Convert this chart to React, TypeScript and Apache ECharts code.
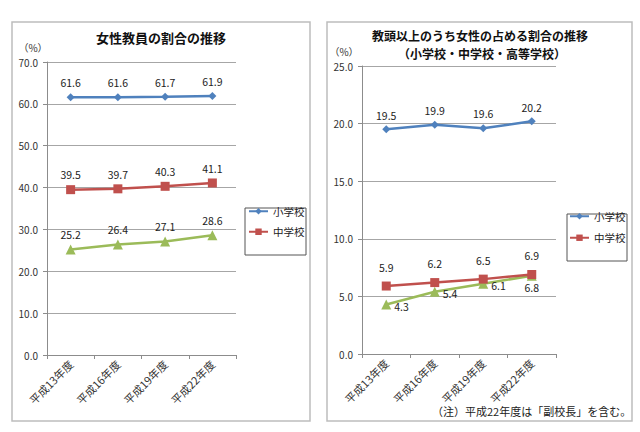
import React, { useEffect, useRef } from "react";
import * as echarts from "echarts";

const categories = ["平成13年度", "平成16年度", "平成19年度", "平成22年度"];
const seriesNames = ["小学校", "中学校", "高等学校"];
const teacherElem = [61.6, 61.6, 61.7, 61.9];
const teacherJunior = [39.5, 39.7, 40.3, 41.1];
const teacherHigh = [25.2, 26.4, 27.1, 28.6];
const mgmtElem = [19.5, 19.9, 19.6, 20.2];
const mgmtJunior = [5.9, 6.2, 6.5, 6.9];
const mgmtHigh = [4.3, 5.4, 6.1, 6.8];

const leftTitle = "女性教員の割合の推移";
const rightTitle1 = "教頭以上のうち女性の占める割合の推移";
const rightTitle2 = "（小学校・中学校・高等学校）";
const unitLabel = "（%）";
const noteText = "（注）平成22年度は「副校長」を含む。";

const FONT = "'Noto Sans CJK JP', 'Noto Sans', sans-serif";
const BLUE = "#4F81BD";
const RED = "#C0504D";
const GREEN = "#9BBB59";
const colors = [BLUE, RED, GREEN];
const symbols = ["diamond", "rect", "triangle"];
const symbolSizes = [8, 9, 10];

export default function App() {
  const ref = useRef<HTMLDivElement>(null);
  useEffect(() => {
    if (!ref.current) return;
    const chart = echarts.init(ref.current, undefined, { renderer: "svg" });

    const mkY = (gridIndex: number, max: number, interval: number) => ({
      type: "value",
      gridIndex,
      min: 0,
      max,
      interval,
      axisLine: { show: true, lineStyle: { color: "#8c8c8c", width: 1 } },
      axisTick: { show: true, length: 4, lineStyle: { color: "#8c8c8c" } },
      splitLine: { show: true, lineStyle: { color: "#a6a6a6", width: 1 } },
      axisLabel: {
        formatter: (v: number) => v.toFixed(1),
        fontSize: 10,
        color: "#333",
        fontFamily: FONT,
        margin: 9,
      },
    });
    const mkX = (gridIndex: number) => ({
      type: "category",
      gridIndex,
      data: categories,
      boundaryGap: true,
      axisLine: { show: true, lineStyle: { color: "#8c8c8c", width: 1 } },
      axisTick: { show: true, length: 4, lineStyle: { color: "#8c8c8c" } },
      splitLine: { show: false },
      axisLabel: {
        rotate: 45,
        fontSize: 11,
        color: "#333",
        fontFamily: FONT,
        margin: 7,
      },
    });

    const mkSeries = (
      idx: number,
      axisIndex: number,
      values: number[],
      labelCfg: any,
      perItem?: any[]
    ) => ({
      type: "line",
      name: seriesNames[idx],
      xAxisIndex: axisIndex,
      yAxisIndex: axisIndex,
      data: values.map((v, i) =>
        perItem && perItem[i] ? { value: v, label: perItem[i] } : v
      ),
      symbol: symbols[idx],
      symbolSize: symbolSizes[idx],
      itemStyle: { color: colors[idx] },
      lineStyle: { color: colors[idx], width: 2.5 },
      label: {
        show: true,
        fontSize: 10.5,
        color: "#222",
        fontFamily: FONT,
        formatter: (p: any) => Number(p.value).toFixed(1),
        ...labelCfg,
      },
      z: 3 - idx + 2,
    });

    const legendBase = {
      orient: "vertical",
      data: ["小学校", "中学校"],
      itemWidth: 19,
      itemHeight: 8,
      padding: 0,
      textStyle: { fontSize: 10.5, color: "#222", fontFamily: FONT },
      selectedMode: false,
    };

    chart.setOption({
      animation: false,
      backgroundColor: "#ffffff",
      grid: [
        { left: 47, top: 62, width: 189, height: 293 },
        { left: 362, top: 66, width: 194, height: 288 },
      ],
      xAxis: [mkX(0), mkX(1)],
      yAxis: [mkY(0, 70, 10), mkY(1, 25, 5)],
      legend: [
        { ...legendBase, left: 248, top: 206, itemGap: 10, itemTextGap: 2 },
        { ...legendBase, left: 569, top: 211, itemGap: 11, itemTextGap: 2 },
      ],
      series: [
        mkSeries(0, 0, teacherElem, { position: "top", distance: 5 }),
        mkSeries(1, 0, teacherJunior, { position: "top", distance: 5 }),
        mkSeries(2, 0, teacherHigh, { position: "top", distance: 5 }),
        mkSeries(0, 1, mgmtElem, { position: "top", distance: 5 }),
        mkSeries(1, 1, mgmtJunior, { position: "top", distance: 9 }),
        mkSeries(2, 1, mgmtHigh, { position: "right", distance: 3, offset: [0, 2] }, [
          null,
          null,
          null,
          { position: "bottom", distance: 2, offset: [0, 0] },
        ]),
      ],
      graphic: [
        {
          type: "rect",
          shape: { x: 12, y: 22, width: 298, height: 399 },
          style: { fill: "none", stroke: "#bdbdbd", lineWidth: 1.5 },
          silent: true,
          z: -10,
        },
        {
          type: "rect",
          shape: { x: 327, y: 22, width: 305, height: 399 },
          style: { fill: "none", stroke: "#bdbdbd", lineWidth: 1.5 },
          silent: true,
          z: -10,
        },
        {
          type: "rect",
          shape: { x: 245, y: 208, width: 61, height: 47 },
          style: { fill: "#fff", stroke: "#555", lineWidth: 1 },
          silent: true,
          z: 0,
        },
        {
          type: "rect",
          shape: { x: 567, y: 214, width: 60, height: 47 },
          style: { fill: "#fff", stroke: "#555", lineWidth: 1 },
          silent: true,
          z: 0,
        },
        {
          type: "text",
          x: 161,
          y: 37,
          style: {
            text: leftTitle,
            font: `bold 13px ${FONT}`,
            fill: "#111",
            align: "center",
            verticalAlign: "middle",
          },
        },
        {
          type: "text",
          x: 480,
          y: 35,
          style: {
            text: rightTitle1,
            font: `bold 12px ${FONT}`,
            fill: "#111",
            align: "center",
            verticalAlign: "middle",
          },
        },
        {
          type: "text",
          x: 482,
          y: 53,
          style: {
            text: rightTitle2,
            font: `bold 12px ${FONT}`,
            fill: "#111",
            align: "center",
            verticalAlign: "middle",
          },
        },
        {
          type: "text",
          x: 33,
          y: 47,
          style: {
            text: unitLabel,
            font: `10px ${FONT}`,
            fill: "#333",
            align: "center",
            verticalAlign: "middle",
          },
        },
        {
          type: "text",
          x: 344,
          y: 51,
          style: {
            text: unitLabel,
            font: `10px ${FONT}`,
            fill: "#333",
            align: "center",
            verticalAlign: "middle",
          },
        },
        {
          type: "text",
          x: 432,
          y: 411,
          style: {
            text: noteText,
            font: `11px ${FONT}`,
            fill: "#222",
            align: "left",
            verticalAlign: "middle",
          },
        },
      ],
    });
    return () => chart.dispose();
  }, []);
  return (
    <div
      ref={ref}
      style={{ position: "absolute", left: 0, top: 0, width: 640, height: 432 }}
    />
  );
}
